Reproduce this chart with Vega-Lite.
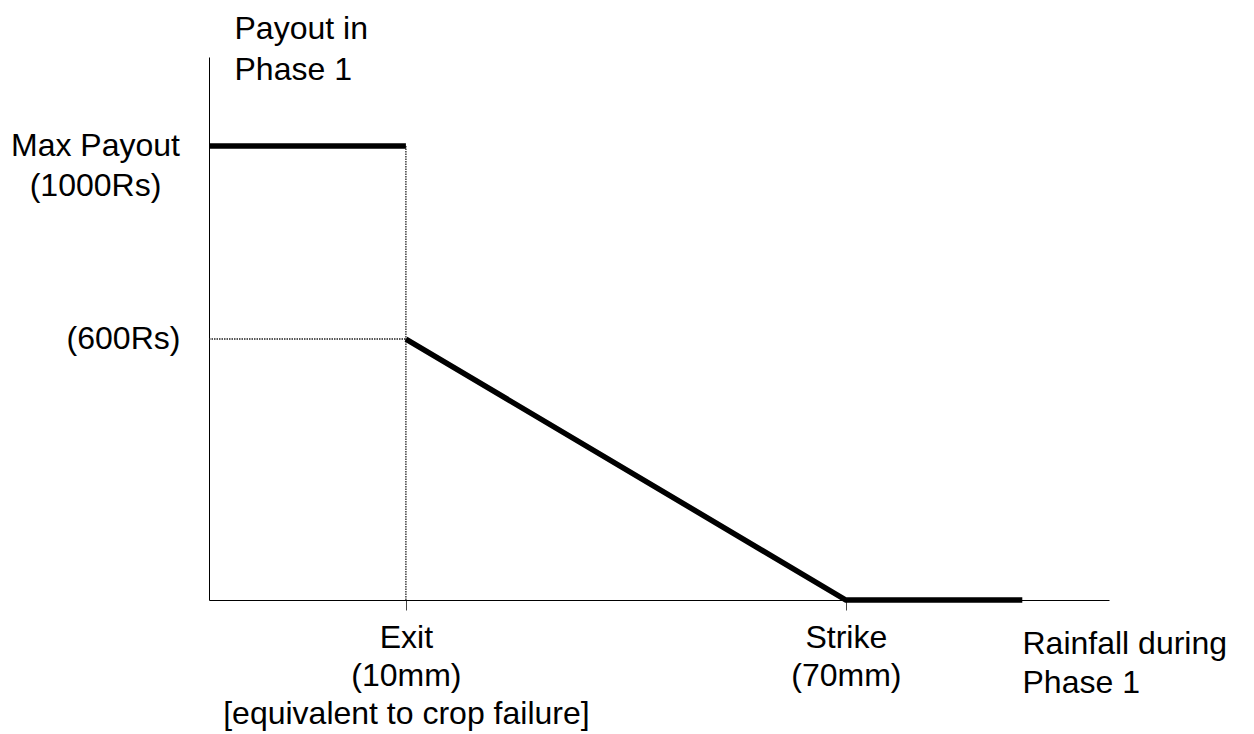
{
  "$schema": "https://vega.github.io/schema/vega-lite/v6.json",
  "width": 900,
  "height": 543,
  "autosize": {"type": "none"},
  "padding": {"left": 209, "top": 57, "right": 145, "bottom": 134},
  "background": "white",
  "config": {
    "view": {"stroke": null},
    "font": "Liberation Sans",
    "axis": {"labelFont": "Liberation Sans", "titleFont": "Liberation Sans"}
  },
  "datasets": {
    "payout": [
      {"rain": 0, "payout": 1000, "seg": "max"},
      {"rain": 10, "payout": 1000, "seg": "max"},
      {"rain": 10, "payout": 600, "seg": "decline"},
      {"rain": 70, "payout": 0, "seg": "decline"},
      {"rain": 105, "payout": 0, "seg": "decline"}
    ],
    "guides": [
      {"rain": 10, "payout": 0, "rain2": 10, "payout2": 1000},
      {"rain": 0, "payout": 600, "rain2": 10, "payout2": 600}
    ]
  },
  "layer": [
    {
      "data": {"name": "guides"},
      "mark": {"type": "rule", "color": "#222", "strokeWidth": 1.3, "strokeDash": [1.5, 1]},
      "encoding": {
        "x": {"field": "rain", "type": "quantitative"},
        "y": {"field": "payout", "type": "quantitative"},
        "x2": {"field": "rain2"},
        "y2": {"field": "payout2"}
      }
    },
    {
      "data": {"name": "payout"},
      "mark": {"type": "line", "color": "black", "strokeWidth": 5.5, "strokeCap": "butt", "strokeJoin": "miter"},
      "encoding": {
        "x": {
          "field": "rain",
          "type": "quantitative",
          "scale": {"type": "pow", "exponent": 0.6032, "domain": [0, 124.2], "nice": false},
          "axis": {
            "values": [10, 70],
            "labelExpr": "datum.value == 10 ? ['Exit', '(10mm)', '[equivalent to crop failure]'] : ['Strike', '(70mm)']",
            "labelFontSize": 32,
            "labelColor": "black",
            "labelBaseline": "alphabetic",
            "labelAlign": "center",
            "labelPadding": 37,
            "labelLineHeight": 38,
            "labelLimit": 2000,
            "labelOverlap": false,
            "labelBound": false,
            "labelFlush": false,
            "grid": false,
            "ticks": true,
            "tickSize": 10,
            "tickColor": "#444",
            "tickWidth": 1,
            "domainColor": "black",
            "domainWidth": 1,
            "title": ["Rainfall during", "Phase 1"],
            "titleFontSize": 32,
            "titleFontWeight": "normal",
            "titleColor": "black",
            "titleAlign": "left",
            "titleBaseline": "alphabetic",
            "titleLineHeight": 39,
            "titleLimit": 2000,
            "titleX": 813,
            "titleY": 53
          }
        },
        "y": {
          "field": "payout",
          "type": "quantitative",
          "scale": {"type": "pow", "exponent": 1.0837, "domain": [0, 1179.7], "nice": false},
          "axis": {
            "values": [600, 1000],
            "labelExpr": "datum.value == 1000 ? ['Max Payout', '(1000Rs)'] : '(600Rs)'",
            "labelFontSize": 32,
            "labelColor": "black",
            "labelBaseline": "alphabetic",
            "labelAlign": "center",
            "labelOffset": 9,
            "labelPadding": {"condition": {"test": "datum.value == 1000", "value": 114}, "value": 86},
            "labelLineHeight": 40,
            "labelLimit": 2000,
            "labelOverlap": false,
            "labelBound": false,
            "labelFlush": false,
            "grid": false,
            "ticks": false,
            "domainColor": "black",
            "domainWidth": 1,
            "title": ["Payout in", "Phase 1"],
            "titleFontSize": 32,
            "titleFontWeight": "normal",
            "titleColor": "black",
            "titleAngle": 0,
            "titleAlign": "left",
            "titleBaseline": "alphabetic",
            "titleLineHeight": 41,
            "titleLimit": 2000,
            "titleX": 25,
            "titleY": -19
          }
        },
        "detail": {"field": "seg", "type": "nominal"}
      }
    }
  ]
}
